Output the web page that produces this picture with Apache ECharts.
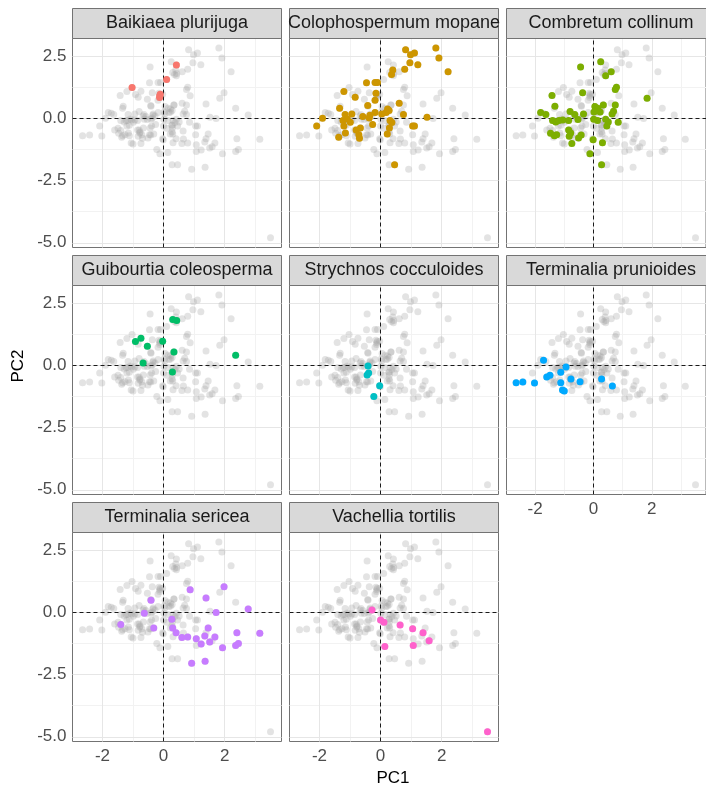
<!DOCTYPE html>
<html>
<head>
<meta charset="utf-8">
<script src="https://cdn.jsdelivr.net/npm/echarts@6/dist/echarts.min.js"></script>
<style>
html, body { margin: 0; padding: 0; background: #fff; }
#chart { width: 706px; height: 790px; }
</style>
</head>
<body>
<div id="chart"></div>
<script>
// species shown in facets, in panel order
const speciesNames = [
	'Baikiaea plurijuga', 'Colophospermum mopane', 'Combretum collinum', 'Guibourtia coleosperma',
	'Strychnos cocculoides', 'Terminalia prunioides', 'Terminalia sericea', 'Vachellia tortilis'
]
const speciesColors = ['#F8766D', '#CD9600', '#7CAE00', '#00BE67', '#00BFC4', '#00A9FF', '#C77CFF', '#FF61CC']

// [PC1, PC2] per species
const baikiaea = [[0.42, 2.14], [0.10, 1.55], [-1.03, 1.23], [-0.11, 0.96], [-0.13, 0.83], [-0.12, 0.90]]
const colophospermum = [
	[0.82, 2.75], [1.81, 2.82], [0.98, 2.55], [1.11, 2.62], [1.91, 2.42], [0.96, 2.23], [1.22, 2.15],
	[0.79, 1.97], [2.21, 1.87], [0.40, 1.94], [0.36, 1.75], [-0.46, 1.42], [-0.18, 1.43], [-0.10, 1.43],
	[-1.20, 1.07], [-0.15, 1.00], [-0.83, 0.84], [-0.18, 0.72], [0.61, 0.60], [-1.34, 0.40], [-0.42, 0.51],
	[0.23, 0.37], [0.28, 0.31], [0.18, 0.23], [0.75, 0.15], [-1.16, 0.15], [-0.94, 0.17], [-0.58, 0.07],
	[-0.35, 0.12], [-0.18, 0.23], [0.04, 0.17], [-1.90, 0.00], [-1.23, -0.09], [-1.09, -0.03], [-0.99, -0.16],
	[-0.37, 0.01], [0.31, -0.09], [1.52, 0.04], [-2.09, -0.31], [-1.20, -0.31], [-0.26, -0.25], [0.37, -0.17],
	[1.05, -0.31], [1.11, -0.31], [-0.80, -0.47], [-0.66, -0.39], [-1.15, -0.59], [-0.71, -0.66], [0.29, -0.39],
	[0.22, -0.63], [-1.37, -0.76], [-0.69, -0.80], [0.46, -1.87]
]
const combretum = [
	[0.25, 2.27], [-0.44, 2.06], [0.61, 1.87], [0.42, 1.70], [0.79, 1.24], [0.75, 1.15], [-0.37, 1.02],
	[-1.42, 0.91], [1.84, 0.80], [-1.32, 0.48], [0.05, 0.47], [0.15, 0.40], [0.34, 0.53], [0.75, 0.53],
	[0.02, 0.25], [0.23, 0.25], [0.69, 0.28], [0.64, 0.17], [-1.81, 0.23], [-1.63, 0.15], [-0.80, 0.27],
	[-0.64, 0.15], [-0.34, 0.17], [-0.53, -0.05], [-1.40, -0.09], [-1.29, -0.15], [-1.18, -0.09], [-1.05, -0.07],
	[-0.85, -0.09], [0.01, -0.04], [0.14, -0.09], [0.42, -0.04], [0.51, -0.15], [0.85, -0.16], [0.46, -0.31],
	[-0.85, -0.47], [-0.78, -0.59], [-1.47, -0.60], [-1.34, -0.70], [-1.26, -0.66], [-0.42, -0.67], [-0.51, -0.79],
	[-0.83, -0.72], [-0.01, -0.86], [0.31, -0.98], [-0.74, -1.02], [-0.12, -1.43], [0.28, -1.87]
]
const guibourtia = [
	[0.30, 1.84], [0.43, 1.79], [-0.92, 0.95], [-0.74, 1.08], [-0.03, 0.96], [-0.53, 0.76], [0.34, 0.53],
	[2.36, 0.40], [-0.67, 0.09], [0.29, -0.27]
]
const strychnos = [[-0.41, -0.03], [-0.39, -0.31], [-0.44, -0.39], [-0.03, -0.82], [-0.22, -1.26]]
const prunioides = [
	[-1.71, 0.20], [-0.94, -0.07], [-1.12, -0.28], [-1.49, -0.40], [-1.60, -0.47], [-2.65, -0.70], [-2.42, -0.67],
	[-2.02, -0.71], [-1.12, -0.70], [-0.77, -0.55], [-0.46, -0.66], [-1.06, -1.00], [-1.00, -1.04], [0.28, -0.55],
	[0.65, -0.83]
]
const sericea = [
	[0.87, 0.90], [1.98, 1.02], [1.39, 0.57], [-0.41, 0.48], [2.77, 0.13], [1.72, -0.01], [-0.63, -0.04],
	[-1.40, -0.49], [0.27, -0.28], [-0.32, -0.63], [0.30, -0.63], [0.41, -0.82], [0.60, -1.02], [0.79, -0.99],
	[1.07, -1.07], [1.23, -1.28], [1.35, -0.95], [1.46, -0.63], [1.51, -1.20], [1.68, -0.99], [1.93, -1.43],
	[2.40, -0.82], [2.36, -1.34], [2.45, -1.26], [3.15, -0.84], [0.92, -2.05], [1.36, -1.97]
]
const vachellia = [
	[-0.28, 0.09], [0.00, -0.31], [0.11, -0.40], [0.64, -0.51], [1.05, -0.66], [1.39, -0.82], [1.59, -1.15],
	[1.07, -1.34], [0.14, -1.38], [3.50, -4.80]
]

const xTicks = [-2, 0, 2]
const xMinorTicks = [-1, 1, 3]
const yTicks = [2.5, 0, -2.5, -5]
const yMinorTicks = [1.25, -1.25, -3.75]
const xRange = [-2.98, 3.86]
const yRange = [-5.19, 3.2]

const speciesData = [baikiaea, colophospermum, combretum, guibourtia, strychnos, prunioides, sericea, vachellia]
const allPoints = [].concat(...speciesData)

// facet layout
const colLeft = [72.5, 289.5, 506.5]
const rowTop = [38.5, 285.5, 532.5]
const panelW = 209
const panelH = 209
const stripH = 30
const borderColor = '#737373'
const font = 'Liberation Sans, Arial, sans-serif'

var chart = echarts.init(document.getElementById('chart'))

const grids = []
const xAxes = []
const yAxes = []
const series = []
const graphics = []

speciesNames.forEach((name, i) => {
	const col = i % 3
	const row = Math.floor(i / 3)
	const left = colLeft[col]
	const top = rowTop[row]
	// x labels on the lowest panel of each column
	const showX = row === 2 || (row === 1 && col === 2)
	const showY = col === 0

	grids.push({
		left: left,
		top: top,
		width: panelW,
		height: panelH,
		show: true,
		backgroundColor: '#fff',
		borderColor: borderColor,
		borderWidth: 1,
	})

	xAxes.push({
		type: 'value',
		gridIndex: i,
		min: xRange[0],
		max: xRange[1],
		axisLine: { show: false },
		splitLine: { show: false },
		axisTick: { show: showX, customValues: xTicks, length: 4, lineStyle: { color: '#333' } },
		axisLabel: {
			show: showX,
			customValues: xTicks,
			margin: 6,
			fontSize: 17,
			fontFamily: font,
			color: '#4d4d4d',
			formatter: (v) => String(v),
		},
	})

	yAxes.push({
		type: 'value',
		gridIndex: i,
		min: yRange[0],
		max: yRange[1],
		axisLine: { show: false },
		splitLine: { show: false },
		axisTick: { show: showY, customValues: yTicks, length: 4, lineStyle: { color: '#333' } },
		axisLabel: {
			show: showY,
			customValues: yTicks,
			margin: 6,
			fontSize: 17,
			fontFamily: font,
			color: '#4d4d4d',
			formatter: (v) => v.toFixed(1),
		},
	})

	// background grid
	const gridLines = []
	xMinorTicks.forEach((v) => gridLines.push({ xAxis: v, lineStyle: { color: '#f2f2f2' } }))
	yMinorTicks.forEach((v) => gridLines.push({ yAxis: v, lineStyle: { color: '#f2f2f2' } }))
	xTicks.forEach((v) => gridLines.push({ xAxis: v, lineStyle: { color: '#e6e6e6' } }))
	yTicks.forEach((v) => gridLines.push({ yAxis: v, lineStyle: { color: '#e6e6e6' } }))
	series.push({
		type: 'scatter',
		xAxisIndex: i,
		yAxisIndex: i,
		data: [],
		z: 1,
		markLine: {
			z: 1,
			silent: true,
			symbol: 'none',
			animation: false,
			label: { show: false },
			lineStyle: { type: 'solid', width: 1 },
			data: gridLines,
		},
	})

	// all observations in grey
	series.push({
		type: 'scatter',
		xAxisIndex: i,
		yAxisIndex: i,
		data: allPoints,
		symbolSize: 7,
		itemStyle: { color: 'rgba(165,165,165,0.38)' },
		z: 2,
		silent: true,
	})

	// dashed zero lines
	series.push({
		type: 'scatter',
		xAxisIndex: i,
		yAxisIndex: i,
		data: [],
		z: 3,
		markLine: {
			z: 3,
			silent: true,
			symbol: 'none',
			animation: false,
			label: { show: false },
			lineStyle: { type: [4, 3], color: '#1a1a1a', width: 1 },
			data: [{ xAxis: 0 }, { yAxis: 0 }],
		},
	})

	// this species
	series.push({
		name: name,
		type: 'scatter',
		xAxisIndex: i,
		yAxisIndex: i,
		data: speciesData[i],
		symbolSize: 7,
		itemStyle: { color: speciesColors[i], opacity: 1 },
		z: 4,
		silent: true,
	})

	// strip header
	graphics.push({
		type: 'rect',
		shape: { x: left, y: top - stripH, width: panelW, height: stripH },
		style: { fill: '#d9d9d9', stroke: borderColor, lineWidth: 1 },
		z: 10,
	})
	graphics.push({
		type: 'text',
		x: left + panelW / 2,
		y: top - stripH / 2,
		style: {
			text: name,
			fill: '#1a1a1a',
			font: '18px ' + font,
			align: 'center',
			verticalAlign: 'middle',
		},
		z: 11,
	})
})

graphics.push({
	type: 'text',
	x: 393,
	y: 778,
	style: { text: 'PC1', fill: '#000', font: '17px ' + font, align: 'center', verticalAlign: 'middle' },
})
graphics.push({
	type: 'text',
	x: 18,
	y: 366,
	rotation: Math.PI / 2,
	style: { text: 'PC2', fill: '#000', font: '17px ' + font, align: 'center', verticalAlign: 'middle' },
})

var option = {
	animation: false,
	backgroundColor: '#fff',
	grid: grids,
	xAxis: xAxes,
	yAxis: yAxes,
	series: series,
	graphic: graphics,
}

option && chart.setOption(option)
</script>
</body>
</html>
